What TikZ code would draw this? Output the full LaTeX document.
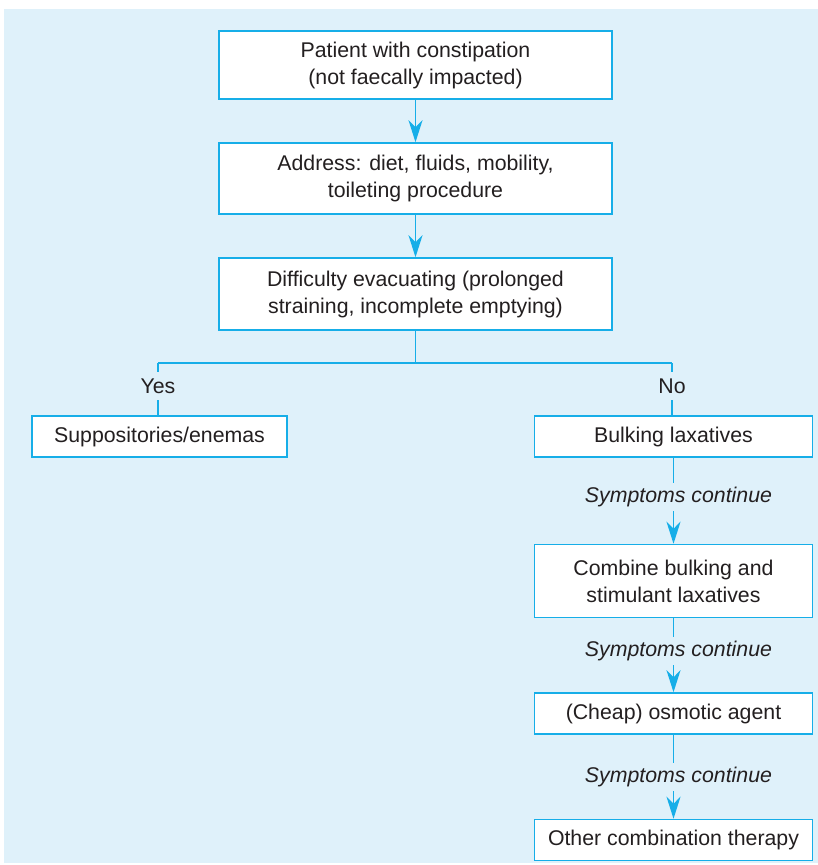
\documentclass[tikz,border=0pt]{standalone}
\usepackage{fontspec}
\setmainfont{Liberation Sans}
\usetikzlibrary{arrows.meta}
\definecolor{panelbg}{HTML}{DFF1FA}
\definecolor{linecyan}{HTML}{16AEE8}
\definecolor{txtgray}{HTML}{231F20}
\tikzset{
  boxnode/.style={draw=linecyan, line width=1.5pt, fill=white, inner sep=0pt,
    align=center, text=txtgray, font=\fontsize{21.3}{27}\selectfont},
  labelnode/.style={inner sep=0pt, minimum height=28pt, text=txtgray,
    font=\fontsize{21.3}{27}\selectfont},
  italnode/.style={labelnode, font=\fontsize{21.3}{27}\selectfont\itshape},
  conn/.style={draw=linecyan, line width=1.5pt},
  arr/.style={conn, -{Stealth[length=22pt, width=14pt, inset=7pt]}}
}
\begin{document}
\begin{tikzpicture}[x=1pt, y=-1pt]
\useasboundingbox (0,0) rectangle (818,865);
\fill[panelbg] (4,9) rectangle (818,863);

% main column
\node[boxnode, minimum width=393pt, minimum height=68pt] (b1) at (415.5,65)
  {Patient with constipation\\(not faecally impacted)};
\node[boxnode, minimum width=393pt, minimum height=71pt] (b2) at (415.5,178.5)
  {Address: diet, fluids, mobility,\\toileting procedure};
\node[boxnode, minimum width=393pt, minimum height=72pt] (b3) at (415.5,294)
  {Difficulty evacuating (prolonged\\straining, incomplete emptying)};

\draw[arr] (b1.south) -- (b2.north);
\draw[arr] (b2.south) -- (b3.north);

% branch
\coordinate (j) at (415.5,363);
\coordinate (jl) at (158,363);
\coordinate (jr) at (672,363);
\node[labelnode] (yes) at (158,386) {Yes};
\node[labelnode] (no) at (672,386) {No};

\node[boxnode, minimum width=255pt, minimum height=41pt] (supp) at (159.5,436.5)
  {Suppositories/enemas};
\node[boxnode, minimum width=278pt, minimum height=41pt] (bulk) at (673.5,436.5)
  {Bulking laxatives};
\node[boxnode, minimum width=278pt, minimum height=73pt] (comb) at (673.5,581)
  {Combine bulking and\\stimulant laxatives};
\node[boxnode, minimum width=278pt, minimum height=41pt] (osm) at (673.5,713.5)
  {(Cheap) osmotic agent};
\node[boxnode, minimum width=278pt, minimum height=41pt] (other) at (673.5,840)
  {Other combination therapy};

\draw[conn] (b3.south) -- (j);
\draw[conn] (jl) -- (jr);
\draw[conn] (jl) -- (yes.north);
\draw[conn] (jr) -- (no.north);
\draw[conn] (yes.south) -- (yes.south |- supp.north);
\draw[conn] (no.south) -- (no.south |- bulk.north);

% right column
\node[italnode] (s1) at (673.5,497) {\hspace*{10pt}Symptoms continue};
\node[italnode] (s2) at (673.5,651) {\hspace*{10pt}Symptoms continue};
\node[italnode] (s3) at (673.5,777) {\hspace*{10pt}Symptoms continue};

\draw[conn] (bulk.south) -- (s1.north);
\draw[arr] (s1.south) -- (comb.north);
\draw[conn] (comb.south) -- (s2.north);
\draw[arr] (s2.south) -- (osm.north);
\draw[conn] (osm.south) -- (s3.north);
\draw[arr] (s3.south) -- (other.north);
\end{tikzpicture}
\end{document}
